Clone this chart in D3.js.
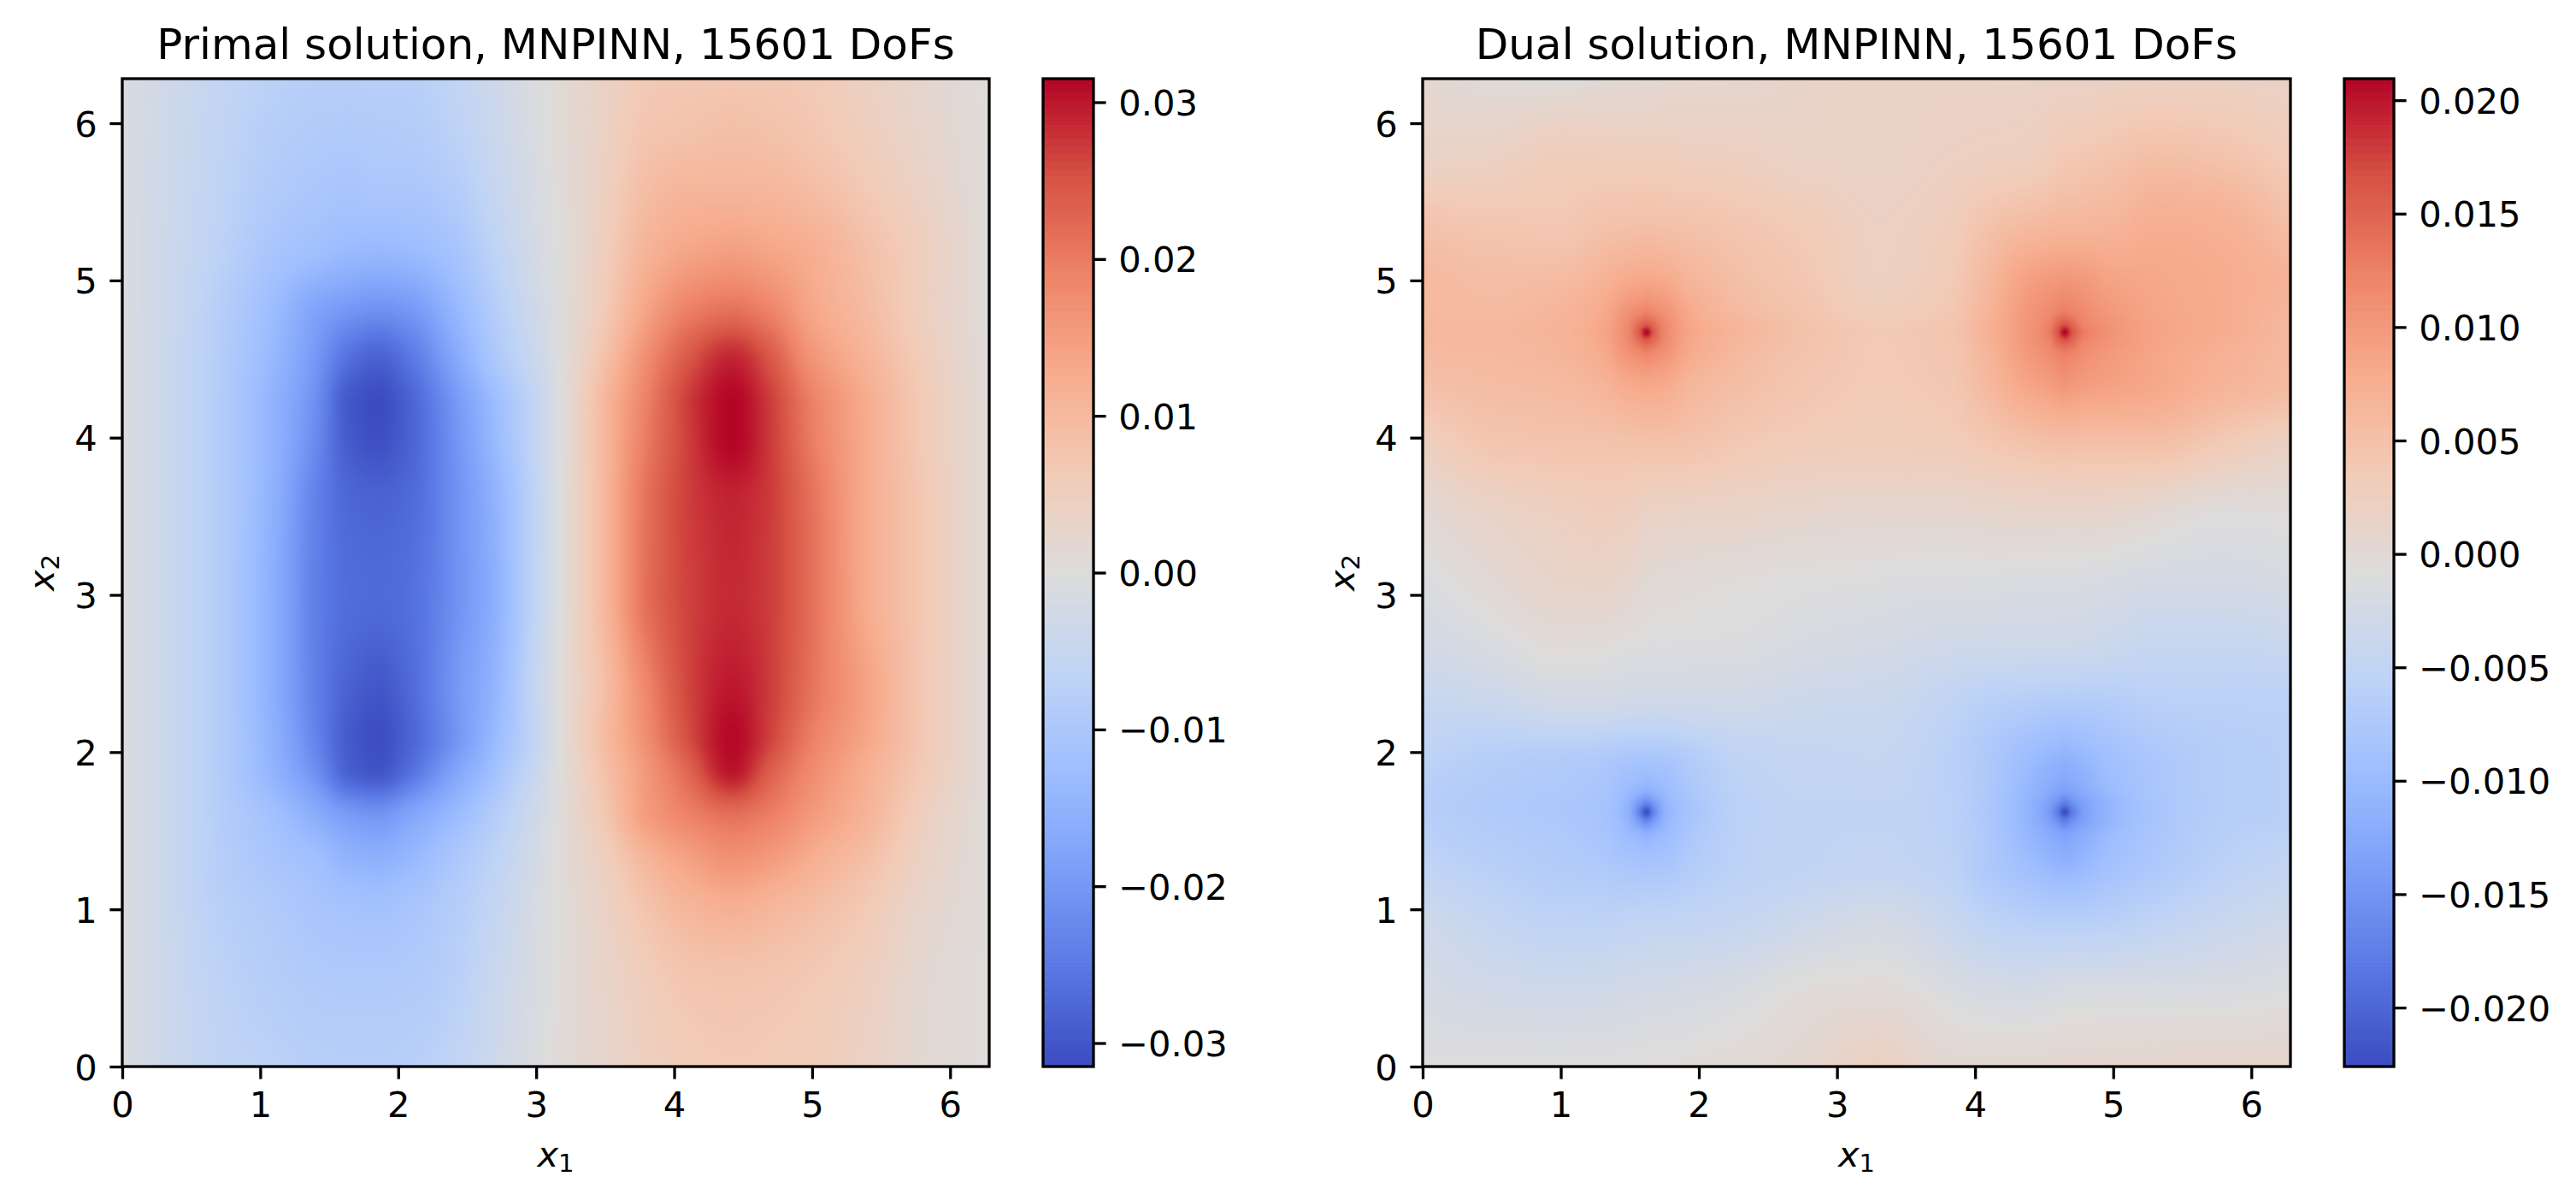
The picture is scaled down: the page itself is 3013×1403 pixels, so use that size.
<!DOCTYPE html>
<html>
<head>
<meta charset="utf-8">
<script src="https://cdn.jsdelivr.net/npm/d3@7"></script>
<style>
  body { margin: 0; background: #fff; overflow: hidden; }
  text { font-family: "DejaVu Sans", sans-serif; fill: #000; }
</style>
</head>
<body>
<div id="chart"></div>
<script>
// values, in units of 1e-4
var valueUnit = 1e-4;
var domainMax = 2 * Math.PI;
var axisTicks = [0, 1, 2, 3, 4, 5, 6];

var primalTitle = "Primal solution, MNPINN, 15601 DoFs";
var primalColorDomain = [-0.0315, 0.0315];
var primalColorTicks = [-0.03, -0.02, -0.01, 0, 0.01, 0.02, 0.03];
var primalX = [0, .3, .7, 1.1, 1.4, 1.65, 1.85, 2.1, 2.4, 2.7, 3, 3.2, 3.5, 3.8, 4.1, 4.42, 4.7, 5, 5.4, 5.8, 6.2832];
var primalY = [0, .5, 1, 1.3, 1.6, 1.9, 2.1, 2.4, 3, 3.6, 4, 4.2, 4.5, 4.8, 5.2, 5.6, 6, 6.2832];
var primalValues = [
  [-8,-35,-60,-70,-78,-80,-80,-76,-60,-35,-5,10,28,48,60,65,62,58,40,15,2],
  [-8,-36,-66,-82,-90,-92,-92,-90,-75,-42,-12,8,32,55,72,75,72,65,48,18,2],
  [-8,-38,-75,-92,-105,-112,-115,-105,-85,-55,-15,8,40,78,105,118,105,90,65,28,3],
  [-8,-38,-80,-105,-120,-145,-150,-135,-100,-65,-22,10,50,105,140,165,150,120,85,40,3],
  [-8,-38,-82,-120,-160,-195,-205,-175,-135,-85,-30,10,72,150,190,215,195,155,110,50,3],
  [-8,-38,-85,-150,-215,-290,-305,-262,-185,-120,-45,10,85,160,230,305,240,180,120,65,4],
  [-8,-38,-85,-155,-232,-295,-312,-278,-210,-135,-55,10,95,175,255,312,265,195,135,70,4],
  [-8,-38,-85,-160,-238,-285,-300,-270,-205,-145,-50,12,90,185,262,300,270,210,140,70,4],
  [-8,-38,-85,-160,-238,-268,-272,-262,-215,-155,-60,8,105,215,265,285,268,215,125,70,5],
  [-8,-38,-85,-155,-235,-276,-282,-270,-215,-150,-60,8,105,212,268,290,270,212,125,70,5],
  [-8,-38,-85,-150,-220,-295,-310,-280,-210,-135,-55,6,105,200,268,315,272,198,125,65,5],
  [-8,-38,-85,-150,-215,-300,-315,-280,-205,-130,-55,6,105,195,270,315,270,195,125,65,5],
  [-8,-38,-83,-140,-200,-265,-285,-250,-175,-100,-40,6,85,175,245,290,245,165,110,58,4],
  [-8,-36,-80,-130,-180,-205,-215,-200,-145,-85,-30,6,65,140,195,215,190,135,95,50,3],
  [-8,-34,-68,-105,-120,-133,-135,-130,-110,-65,-20,6,55,110,135,145,135,120,85,50,3],
  [-8,-32,-62,-90,-100,-105,-100,-100,-85,-50,-14,10,48,90,105,105,102,90,65,38,3],
  [-8,-30,-58,-80,-88,-90,-88,-85,-68,-40,-8,14,42,72,78,85,80,70,50,28,2],
  [-8,-30,-55,-72,-80,-80,-78,-78,-60,-35,-5,14,40,65,70,70,68,65,45,25,0]
];

var dualTitle = "Dual solution, MNPINN, 15601 DoFs";
var dualColorDomain = [-0.0226, 0.02095];
var dualColorTicks = [-0.02, -0.015, -0.01, -0.005, 0, 0.005, 0.01, 0.015, 0.02];
var dualX = [0, .5, 1, 1.3, 1.48, 1.57, 1.62, 1.67, 1.76, 1.94, 2.3, 2.8, 3.3, 3.8, 4.05, 4.35, 4.53, 4.6, 4.65, 4.7, 4.79, 4.97, 5.3, 5.8, 6.2832];
var dualY = [0, .45, .9, 1.3, 1.48, 1.57, 1.62, 1.67, 1.76, 1.94, 2.3, 2.7, 3.1, 3.5, 3.95, 4.35, 4.53, 4.62, 4.67, 4.72, 4.81, 4.99, 5.35, 5.8, 6.2832];
var dualValues = [
  [-8,-8,-8,-7,-6,-5,-5,-5,-4,-3,0,8,24,6,6,6,7,8,8,8,8,9,10,12,14],
  [-20,-26,-28,-27,-25,-24,-22,-22,-22,-20,-14,-3,0,-12,-18,-20,-18,-16,-14,-14,-14,-14,-14,-13,-9],
  [-30,-44,-52,-52,-50,-49,-48,-48,-47,-46,-42,-30,-22,-38,-50,-58,-60,-60,-60,-60,-60,-58,-50,-38,-28],
  [-52,-62,-70,-74,-82,-84,-85,-84,-82,-70,-56,-50,-47,-55,-72,-92,-105,-110,-112,-110,-104,-90,-76,-58,-48],
  [-60,-68,-74,-82,-98,-108,-115,-108,-98,-78,-57,-50,-49,-57,-72,-102,-122,-130,-135,-130,-120,-100,-80,-62,-56],
  [-62,-70,-76,-84,-108,-150,-172,-150,-108,-82,-58,-50,-50,-58,-73,-105,-135,-160,-180,-160,-135,-108,-82,-64,-60],
  [-63,-72,-77,-85,-112,-172,-222,-172,-112,-85,-58,-50,-50,-58,-74,-105,-140,-180,-224,-180,-138,-108,-82,-65,-60],
  [-63,-72,-77,-84,-108,-150,-172,-150,-108,-82,-58,-50,-50,-58,-73,-105,-135,-160,-180,-160,-135,-108,-82,-65,-60],
  [-62,-70,-75,-82,-98,-108,-115,-108,-98,-78,-56,-48,-47,-58,-72,-102,-122,-130,-135,-130,-120,-100,-80,-65,-60],
  [-55,-65,-70,-74,-82,-84,-85,-84,-82,-70,-52,-46,-44,-58,-72,-95,-108,-112,-115,-112,-106,-92,-78,-65,-60],
  [-42,-38,-28,-28,-30,-31,-32,-32,-31,-30,-30,-35,-37,-50,-60,-66,-70,-70,-72,-70,-70,-68,-60,-58,-58],
  [-25,-14,-2,-4,-7,-9,-10,-10,-10,-11,-12,-18,-22,-28,-29,-30,-30,-30,-30,-30,-32,-35,-42,-42,-38],
  [-12,2,14,16,10,5,2,1,0,-2,-5,-8,-10,-12,-12,-13,-13,-14,-14,-14,-15,-17,-22,-22,-18],
  [0,15,24,28,26,22,18,18,17,16,14,8,6,6,8,10,10,10,10,10,10,9,2,-8,-6],
  [24,42,45,46,47,48,48,48,48,46,38,32,30,32,38,46,50,51,52,51,50,50,50,35,20],
  [52,56,60,68,82,85,87,85,82,66,54,42,36,40,58,85,96,102,105,102,97,92,84,68,58],
  [58,60,66,80,105,115,120,115,105,80,60,45,37,42,62,96,112,122,126,122,112,100,86,72,60],
  [62,62,67,84,116,145,160,145,116,84,64,47,37,43,66,100,122,150,165,150,122,106,88,76,60],
  [63,63,68,86,118,160,209,160,118,86,65,48,38,44,68,100,128,165,209,165,130,108,88,78,60],
  [62,62,67,84,116,145,160,145,116,84,64,47,36,43,66,100,122,150,165,150,122,106,88,78,60],
  [60,58,66,80,105,115,120,115,105,80,58,44,30,40,62,98,114,122,126,122,114,100,86,78,64],
  [60,55,58,70,82,85,87,85,82,68,52,40,24,36,58,90,100,103,105,103,100,90,84,78,68],
  [47,42,40,48,50,52,52,52,50,48,42,34,22,30,45,58,62,64,64,64,65,66,76,72,52],
  [16,20,30,29,28,28,28,28,28,26,24,18,18,22,24,26,32,36,38,38,40,44,52,46,32],
  [6,-3,-5,0,2,3,4,4,5,6,8,16,18,18,18,18,18,18,18,18,18,19,20,20,18]
];

// coolwarm stops
var coolwarm = ["#3b4cc0", "#5977e3", "#7b9ff9", "#9ebeff", "#c0d4f5", "#dddcdc", "#f2cbb7", "#f7ac8e", "#ee8468", "#d65244", "#b40426"];

var width = 3013, height = 1403;
var plotTop = 92, plotBottom = 1247;
var tickLen = 14.6, tickPad = 14.6, lineW = 3.3;

var svg = d3.select("#chart").append("svg")
    .attr("width", width)
    .attr("height", height);

// monotone cubic through the read values, only used to shade between them
function monotone(xs, ys) {
    var n = xs.length, m = new Array(n), d = [];
    for (var i = 0; i < n - 1; i++) d.push((ys[i + 1] - ys[i]) / (xs[i + 1] - xs[i]));
    m[0] = d[0];
    m[n - 1] = d[n - 2];
    for (var i = 1; i < n - 1; i++) {
        m[i] = d[i - 1] * d[i] <= 0 ? 0 : 2 * d[i - 1] * d[i] / (d[i - 1] + d[i]);
    }
    return function(t) {
        var i = Math.min(n - 2, Math.max(0, d3.bisectRight(xs, t) - 1));
        var h = xs[i + 1] - xs[i], s = (t - xs[i]) / h;
        var s2 = s * s, s3 = s2 * s;
        return (2 * s3 - 3 * s2 + 1) * ys[i] + (s3 - 2 * s2 + s) * h * m[i]
            + (3 * s2 - 2 * s3) * ys[i + 1] + (s3 - s2) * h * m[i + 1];
    };
}

function shade(panel, x, y, color) {
    var w = Math.round(x.range()[1] - x.range()[0]);
    var h = Math.round(y.range()[0] - y.range()[1]);
    var canvas = document.createElement("canvas");
    canvas.width = w;
    canvas.height = h;
    var ctx = canvas.getContext("2d");
    var img = ctx.createImageData(w, h);

    var rowSplines = panel.values.map(row => monotone(panel.xs, row));
    for (var i = 0; i < w; i++) {
        var xv = x.invert(x.range()[0] + i + 0.5);
        var column = monotone(panel.ys, rowSplines.map(f => f(xv)));
        for (var j = 0; j < h; j++) {
            var yv = y.invert(y.range()[1] + j + 0.5);
            var c = d3.rgb(color(column(yv) * valueUnit));
            var k = (j * w + i) * 4;
            img.data[k] = c.r;
            img.data[k + 1] = c.g;
            img.data[k + 2] = c.b;
            img.data[k + 3] = 255;
        }
    }
    ctx.putImageData(img, 0, 0);
    return canvas.toDataURL("image/png");
}

function styleAxis(g) {
    g.selectAll(".tick line").attr("stroke", "#000").attr("stroke-width", lineW);
    g.selectAll(".tick text").attr("font-size", 41.67).attr("font-family", "DejaVu Sans");
    g.select(".domain").remove();
}

function nudgeLabels(g) {
    g.selectAll(".tick text").attr("dy", "0.36em");
}

function mathLabel(g, base, sub) {
    var t = g.append("text").attr("text-anchor", "middle").attr("font-size", 41.67);
    t.append("tspan").attr("font-style", "italic").text(base);
    t.append("tspan").attr("font-size", 29).attr("dy", 6).text(sub);
    return t;
}

function formatBar(digits) {
    return d => d3.format("." + digits + "f")(d).replace("-", "\u2212");
}

function drawPanel(panel) {
    var x = d3.scaleLinear().domain([0, domainMax]).range([panel.left, panel.right]);
    var y = d3.scaleLinear().domain([0, domainMax]).range([plotBottom, plotTop]);

    var c = panel.colorDomain;
    var color = d3.scaleLinear()
        .domain(coolwarm.map((d, i) => c[0] + (c[1] - c[0]) * i / 10))
        .range(coolwarm)
        .clamp(true);

    var g = svg.append("g");

    g.append("image")
        .attr("x", panel.left).attr("y", plotTop)
        .attr("width", panel.right - panel.left).attr("height", plotBottom - plotTop)
        .attr("preserveAspectRatio", "none")
        .attr("href", shade(panel, x, y, color));

    g.append("rect")
        .attr("x", panel.left).attr("y", plotTop)
        .attr("width", panel.right - panel.left).attr("height", plotBottom - plotTop)
        .attr("fill", "none").attr("stroke", "#000").attr("stroke-width", lineW);

    g.append("g")
        .attr("transform", `translate(0,${plotBottom})`)
        .call(d3.axisBottom(x).tickValues(axisTicks).tickFormat(d3.format("d")).tickSize(tickLen).tickPadding(tickPad))
        .call(styleAxis);

    g.append("g")
        .attr("transform", `translate(${panel.left},0)`)
        .call(d3.axisLeft(y).tickValues(axisTicks).tickFormat(d3.format("d")).tickSize(tickLen).tickPadding(tickPad))
        .call(styleAxis)
        .call(nudgeLabels);

    g.append("text")
        .attr("x", (panel.left + panel.right) / 2)
        .attr("y", 68.5)
        .attr("text-anchor", "middle")
        .attr("font-size", 50)
        .text(panel.title);

    mathLabel(g, "x", "1")
        .attr("x", (panel.left + panel.right) / 2)
        .attr("y", 1364);

    mathLabel(g, "x", "2")
        .attr("transform", `translate(${panel.left - 80},${(plotTop + plotBottom) / 2}) rotate(-90)`);

    // colorbar, 256 bands like the colormap
    var bar = d3.scaleLinear().domain(c).range([plotBottom, plotTop]);
    var bands = d3.range(256);
    var bandH = (plotBottom - plotTop) / 256;
    g.append("g").selectAll("rect")
        .data(bands)
        .join("rect")
        .attr("x", panel.barLeft)
        .attr("y", d => plotBottom - (d + 1) * bandH)
        .attr("width", panel.barRight - panel.barLeft)
        .attr("height", bandH + 0.6)
        .attr("fill", d => color(c[0] + (c[1] - c[0]) * (d + 0.5) / 256));

    g.append("rect")
        .attr("x", panel.barLeft).attr("y", plotTop)
        .attr("width", panel.barRight - panel.barLeft).attr("height", plotBottom - plotTop)
        .attr("fill", "none").attr("stroke", "#000").attr("stroke-width", lineW);

    g.append("g")
        .attr("transform", `translate(${panel.barRight},0)`)
        .call(d3.axisRight(bar).tickValues(panel.colorTicks).tickFormat(formatBar(panel.digits)).tickSize(tickLen).tickPadding(tickPad))
        .call(styleAxis)
        .call(nudgeLabels);
}

drawPanel({
    title: primalTitle, xs: primalX, ys: primalY, values: primalValues,
    colorDomain: primalColorDomain, colorTicks: primalColorTicks, digits: 2,
    left: 143, right: 1157, barLeft: 1220, barRight: 1279
});

drawPanel({
    title: dualTitle, xs: dualX, ys: dualY, values: dualValues,
    colorDomain: dualColorDomain, colorTicks: dualColorTicks, digits: 3,
    left: 1664, right: 2679, barLeft: 2742, barRight: 2800
});
</script>
</body>
</html>
